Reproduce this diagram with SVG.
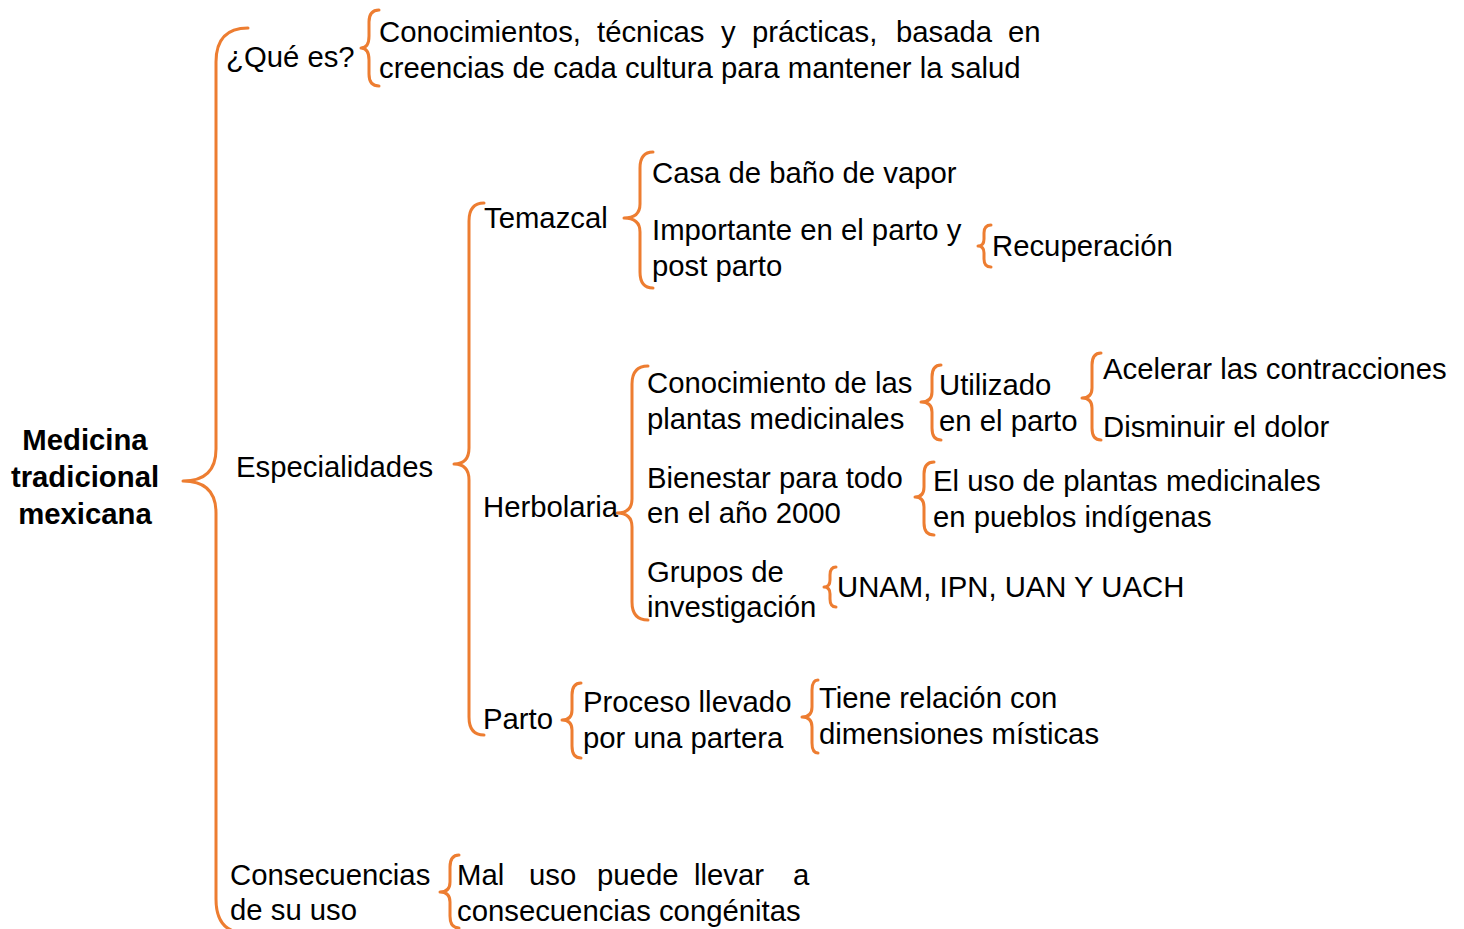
<svg xmlns="http://www.w3.org/2000/svg" width="1464" height="929" viewBox="0 0 1464 929">
<style>
.b{fill:none;stroke:#ED7D31;stroke-width:3;stroke-linecap:round;stroke-linejoin:round}
text{font-family:"Liberation Sans",Arial,sans-serif;font-size:29.3px;fill:#000}
.bold{font-weight:bold}
</style>
<rect width="1464" height="929" fill="#fff"/>
<g id="connectors">
<path class="b" d="M248 28 Q216 28 216 62 L216 449 Q216 481 183 481 Q216 481 216 513 L216 899 Q216 933 246 933"/>
<path class="b" d="M379 10 Q369 10 369 22 L369 36 Q369 48 361 48 Q369 48 369 60 L369 74 Q369 86 379 86"/>
<path class="b" d="M484 203 Q469 203 469 221 L469 448 Q469 464 454 464 Q469 464 469 480 L469 717 Q469 735 484 735"/>
<path class="b" d="M653 152 Q640 152 640 168 L640 204 Q640 218 624 218 Q640 218 640 232 L640 272 Q640 288 653 288"/>
<path class="b" d="M991 225 Q984 225 984 233 L984 239 Q984 246 978 246 Q984 246 984 253 L984 259 Q984 267 991 267"/>
<path class="b" d="M648 366 Q632 366 632 384 L632 499 Q632 513 617 513 Q632 513 632 527 L632 602 Q632 620 648 620"/>
<path class="b" d="M941 365 Q932 365 932 377 L932 392 Q932 402 921 402 Q932 402 932 412 L932 428 Q932 440 941 440"/>
<path class="b" d="M1101 353 Q1092 353 1092 365 L1092 388 Q1092 398 1082 398 Q1092 398 1092 408 L1092 428 Q1092 440 1101 440"/>
<path class="b" d="M934 462 Q924 462 924 474 L924 487 Q924 497 915 497 Q924 497 924 507 L924 523 Q924 535 934 535"/>
<path class="b" d="M836 567 Q830 567 830 575 L830 580 Q830 587 824 587 Q830 587 830 594 L830 599 Q830 607 836 607"/>
<path class="b" d="M581 683 Q572 683 572 695 L572 710 Q572 720 562 720 Q572 720 572 730 L572 746 Q572 758 581 758"/>
<path class="b" d="M818 680 Q812 680 812 690 L812 707 Q812 717 802 717 Q812 717 812 727 L812 743 Q812 753 818 753"/>
<path class="b" d="M459 855 Q450 855 450 867 L450 882 Q450 892 440 892 Q450 892 450 902 L450 916 Q450 928 459 928"/>
</g>
<g id="root"><text class="bold" text-anchor="middle"><tspan x="85" y="450">Medicina</tspan><tspan x="85" y="487">tradicional</tspan><tspan x="85" y="524">mexicana</tspan></text></g>
<g id="que-es"><text x="226" y="67">¿Qué es?</text></g>
<g id="definicion"><text y="42"><tspan x="379">Conocimientos,</tspan><tspan x="597">técnicas</tspan><tspan x="721">y</tspan><tspan x="752">prácticas,</tspan><tspan x="896">basada</tspan><tspan x="1008">en</tspan></text><text x="379" y="78">creencias de cada cultura para mantener la salud</text></g>
<g id="especialidades"><text x="236" y="477">Especialidades</text></g>
<g id="temazcal"><text x="484" y="228">Temazcal</text></g>
<g id="casa"><text x="652" y="183">Casa de baño de vapor</text></g>
<g id="importante"><text x="652" y="240">Importante en el parto y</text><text x="652" y="276">post parto</text></g>
<g id="recuperacion"><text x="992" y="256">Recuperación</text></g>
<g id="herbolaria"><text x="483" y="517">Herbolaria</text></g>
<g id="conocimiento"><text x="647" y="393">Conocimiento de las</text><text x="647" y="429">plantas medicinales</text></g>
<g id="utilizado"><text x="939" y="395">Utilizado</text><text x="939" y="431">en el parto</text></g>
<g id="acelerar"><text x="1103" y="379">Acelerar las contracciones</text></g>
<g id="disminuir"><text x="1103" y="437">Disminuir el dolor</text></g>
<g id="bienestar"><text x="647" y="488">Bienestar para todo</text><text x="647" y="523">en el año 2000</text></g>
<g id="uso-plantas"><text x="933" y="491">El uso de plantas medicinales</text><text x="933" y="527">en pueblos indígenas</text></g>
<g id="grupos"><text x="647" y="582">Grupos de</text><text x="647" y="617">investigación</text></g>
<g id="unam"><text x="837" y="597">UNAM, IPN, UAN Y UACH</text></g>
<g id="parto"><text x="483" y="729">Parto</text></g>
<g id="proceso"><text x="583" y="712">Proceso llevado</text><text x="583" y="748">por una partera</text></g>
<g id="tiene"><text x="819" y="708">Tiene relación con</text><text x="819" y="744">dimensiones místicas</text></g>
<g id="consecuencias"><text x="230" y="885">Consecuencias</text><text x="230" y="920">de su uso</text></g>
<g id="mal-uso"><text y="885"><tspan x="457">Mal</tspan><tspan x="529">uso</tspan><tspan x="597">puede</tspan><tspan x="694">llevar</tspan><tspan x="793">a</tspan></text><text x="457" y="921">consecuencias congénitas</text></g>
</svg>
